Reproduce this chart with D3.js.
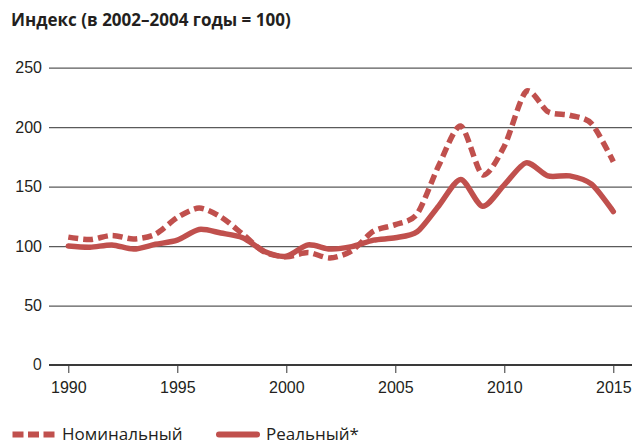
<!DOCTYPE html>
<html lang="ru">
<head>
    <meta charset="UTF-8">
    <title>Индекс</title>
    <script src="https://cdnjs.cloudflare.com/ajax/libs/d3/7.8.5/d3.min.js"></script>
    <style>
        body {
            margin: 0;
            padding: 0;
            background: #fff;
            font-family: "Open Sans", "Noto Sans", Arial, sans-serif;
        }
        .grid line {
            stroke: #5a5a5a;
            stroke-width: 1.3;
        }
        .tick text {
            fill: #231f20;
        }
    </style>
</head>
<body>
    <div id="chart"></div>

    <script>
        const width = 632;
        const height = 445;

        // data
        const years = d3.range(1990, 2016);
        const nominal = [107.5, 105.5, 109, 106, 110, 124, 132, 124.5, 110, 95, 91, 94.5, 90, 96, 112.5, 118, 127, 168, 201, 160, 184, 230, 213, 210, 203, 171];
        const real = [100, 99, 101, 97.5, 101.5, 105, 114, 111, 107, 95.5, 91.5, 101, 97.5, 99.5, 105, 107, 112, 134, 156, 133.5, 151.5, 170, 159, 159, 152, 129];
        const yTicks = [0, 50, 100, 150, 200, 250];
        const xTicks = [1990, 1995, 2000, 2005, 2010, 2015];
        const title = "Индекс (в 2002–2004 годы = 100)";
        const legendLabels = ["Номинальный", "Реальный*"];

        const color = "#c0504d";
        const gridLeft = 49;

        const svg = d3.select("#chart")
            .append("svg")
            .attr("width", width)
            .attr("height", height);

        const x = d3.scaleLinear().domain([1990, 2015]).range([68.3, 613.3]);
        const y = d3.scaleLinear().domain([0, 250]).range([365, 67.7]);

        svg.append("text")
            .attr("x", 11)
            .attr("y", 26)
            .attr("font-size", 17)
            .attr("font-weight", "bold")
            .attr("fill", "#231f20")
            .text(title);

        // horizontal gridlines + y labels
        const yAxis = svg.append("g")
            .attr("class", "grid")
            .attr("transform", `translate(${gridLeft},0)`)
            .call(d3.axisLeft(y)
                .tickValues(yTicks.filter(d => d > 0))
                .tickSize(-(width - gridLeft))
                .tickPadding(7));
        yAxis.select(".domain").remove();
        yAxis.selectAll("text").attr("font-size", 16).attr("font-family", null);

        // zero label
        svg.append("text")
            .attr("x", gridLeft - 7)
            .attr("y", y(0))
            .attr("dy", "0.32em")
            .attr("text-anchor", "end")
            .attr("font-size", 16)
            .attr("fill", "#231f20")
            .text("0");

        // x axis
        const xAxis = svg.append("g")
            .attr("transform", `translate(0,${y(0)})`)
            .call(d3.axisBottom(x)
                .tickValues(xTicks)
                .tickSize(8)
                .tickPadding(9)
                .tickFormat(d3.format("d")));
        xAxis.select(".domain").remove();
        xAxis.selectAll("line").attr("stroke", "#333");
        xAxis.selectAll("text").attr("font-size", 16).attr("font-family", null);

        svg.append("line")
            .attr("x1", gridLeft)
            .attr("x2", width)
            .attr("y1", y(0))
            .attr("y2", y(0))
            .attr("stroke", "#3a3a3a")
            .attr("stroke-width", 2.2);

        const line = d3.line()
            .x((d, i) => x(years[i]))
            .y(d => y(d))
            .curve(d3.curveCardinal.tension(0.2));

        svg.append("path")
            .datum(real)
            .attr("d", line)
            .attr("fill", "none")
            .attr("stroke", color)
            .attr("stroke-width", 5.5)
            .attr("stroke-linecap", "round")
            .attr("stroke-linejoin", "round");

        svg.append("path")
            .datum(nominal)
            .attr("d", line)
            .attr("fill", "none")
            .attr("stroke", color)
            .attr("stroke-width", 5.5)
            .attr("stroke-dasharray", "10,5");

        // legend
        const legY = 434.5;
        svg.append("line")
            .attr("x1", 12.5).attr("x2", 55)
            .attr("y1", legY).attr("y2", legY)
            .attr("stroke", color)
            .attr("stroke-width", 6)
            .attr("stroke-dasharray", "11,4.5");
        svg.append("text")
            .attr("x", 62)
            .attr("y", legY)
            .attr("dy", "0.32em")
            .attr("font-size", 17)
            .attr("fill", "#231f20")
            .text(legendLabels[0]);

        svg.append("line")
            .attr("x1", 219).attr("x2", 257)
            .attr("y1", legY).attr("y2", legY)
            .attr("stroke", color)
            .attr("stroke-width", 6)
            .attr("stroke-linecap", "round");
        svg.append("text")
            .attr("x", 266)
            .attr("y", legY)
            .attr("dy", "0.32em")
            .attr("font-size", 17)
            .attr("fill", "#231f20")
            .text(legendLabels[1]);
    </script>
</body>
</html>
